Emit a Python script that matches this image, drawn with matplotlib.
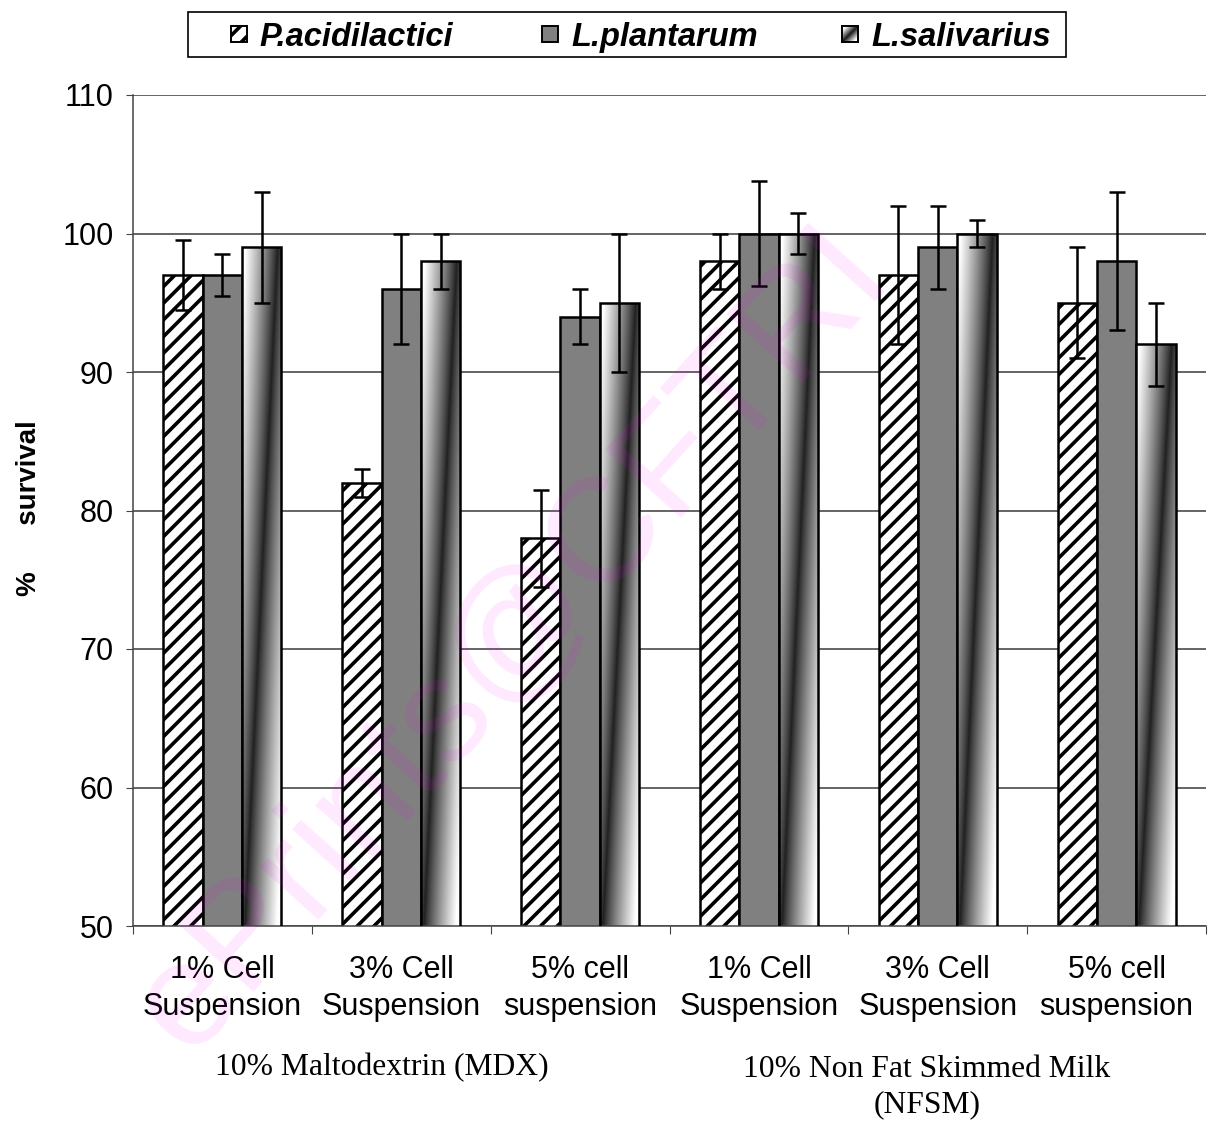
import numpy as np
import matplotlib.pyplot as plt
from matplotlib.patches import Rectangle

plt.rcParams["font.family"] = ["Liberation Sans", "DejaVu Sans"]
plt.rcParams["hatch.linewidth"] = 2.6

categories = ["1% Cell\nSuspension", "3% Cell\nSuspension", "5% cell\nsuspension",
              "1% Cell\nSuspension", "3% Cell\nSuspension", "5% cell\nsuspension"]
groups = ["10% Maltodextrin (MDX)", "10% Non Fat Skimmed Milk\n(NFSM)"]
strains = ["P.acidilactici", "L.plantarum", "L.salivarius"]

p_acid = [97, 82, 78, 98, 97, 95]
p_acid_err = [2.5, 1, 3.5, 2, 5, 4]
l_plant = [97, 96, 94, 100, 99, 98]
l_plant_err = [1.5, 4, 2, 3.8, 3, 5]
l_saliv = [99, 98, 95, 100, 100, 92]
l_saliv_err = [4, 2, 5, 1.5, 1, 3]

W, H = 1217, 1123
fig = plt.figure(figsize=(W / 100, H / 100), dpi=100)
ax = fig.add_axes([133 / W, 1 - 926 / H, (1206 - 133) / W, (926 - 95) / H])

ymin, ymax = 50, 110
x = np.arange(len(categories)) + 0.5
w = 0.22
edge = dict(edgecolor="black", linewidth=1.8)


def shade(nx=60, ny=200):
    # dark streak running from lower left to upper right, lighter away from it
    u = np.linspace(0, 1, nx)[None, :]
    v = np.linspace(0, 1, ny)[:, None]
    d = np.abs(u - (0.07 + 0.83 * v))
    b = np.clip(0.12 + 1.05 * d ** 0.85, 0, 1)
    return np.dstack([b, b, b])


ax.bar(x - w, p_acid, w, color="white", hatch="//", zorder=2, **edge)
ax.bar(x, l_plant, w, color="#808080", zorder=2, **edge)
sal = ax.bar(x + w, l_saliv, w, color="none", zorder=3, **edge)
for rect, val in zip(sal, l_saliv):
    x0 = rect.get_x()
    im = ax.imshow(shade(), extent=[x0, x0 + w, ymin, val], origin="lower",
                   aspect="auto", interpolation="bilinear", zorder=2)
    im.set_clip_path(rect)

eb = dict(fmt="none", ecolor="black", elinewidth=1.8, capsize=5.8,
          capthick=1.8, zorder=4)
ax.errorbar(x - w, p_acid, yerr=p_acid_err, **eb)
ax.errorbar(x, l_plant, yerr=l_plant_err, **eb)
ax.errorbar(x + w, l_saliv, yerr=l_saliv_err, **eb)

ax.set_xlim(0, len(categories))
ax.set_ylim(ymin, ymax)
ax.set_yticks(np.arange(ymin, ymax + 1, 10))
ax.yaxis.grid(True, color="#3a3a3a", linewidth=1.1)
ax.set_axisbelow(True)
for s in ["top", "right"]:
    ax.spines[s].set_visible(False)
for s in ["left", "bottom"]:
    ax.spines[s].set_color("#444444")
    ax.spines[s].set_linewidth(1.1)

ax.set_xticks(np.arange(len(categories) + 1))
ax.set_xticklabels([])
ax.set_xticks(x, categories, minor=True)
ax.tick_params(axis="x", which="major", length=6, color="#444444", direction="out")
ax.tick_params(axis="x", which="minor", length=0, pad=21, labelsize=22)
ax.tick_params(axis="y", length=5, color="#444444", labelsize=22, pad=9)
for t in ax.get_xticklabels(minor=True):
    t.set_linespacing(1.3)

ax.set_ylabel("%      survival", fontsize=20, fontweight="bold")
ax.yaxis.set_label_coords(-0.085, 0.503)

serif = ["Liberation Serif", "DejaVu Serif"]
fig.text(382 / W, 1 - 1068 / H, groups[0], ha="center", va="center",
         fontsize=22.8, family=serif)
fig.text(927 / W, 1 - 1087 / H, groups[1], ha="center", va="center",
         fontsize=22.8, family=serif, linespacing=1.3)

# legend drawn by hand across the top
fig.patches.append(Rectangle((188 / W, 1 - 57 / H), 878 / W, 45 / H,
                             transform=fig.transFigure, fill=False,
                             edgecolor="black", linewidth=1.2))
sq = 16
key_x = [231, 542, 842]
text_x = [259, 571, 871]
key_y = 34
fig.patches.append(Rectangle((key_x[0] / W, 1 - (key_y + sq / 2) / H), sq / W, sq / H,
                             transform=fig.transFigure, facecolor="white",
                             edgecolor="black", hatch="//", linewidth=1.4))
fig.patches.append(Rectangle((key_x[1] / W, 1 - (key_y + sq / 2) / H), sq / W, sq / H,
                             transform=fig.transFigure, facecolor="#808080",
                             edgecolor="black", linewidth=1.4))
kax = fig.add_axes([key_x[2] / W, 1 - (key_y + sq / 2) / H, sq / W, sq / H])
u = np.linspace(0, 1, 20)[None, :]
v = np.linspace(0, 1, 20)[:, None]
kb = np.clip(0.1 + 1.2 * np.abs(u - v), 0, 1)
kax.imshow(np.dstack([kb, kb, kb]), origin="lower", extent=[0, 1, 0, 1], aspect="auto")
kax.set_xticks([])
kax.set_yticks([])
for s in kax.spines.values():
    s.set_linewidth(1.4)
for tx, name in zip(text_x, strains):
    fig.text(tx / W, 1 - key_y / H, name, ha="left", va="center_baseline",
             fontsize=23.5, fontweight="bold", fontstyle="italic")

fig.text(512 / W, 1 - 640 / H, "ePrints@CFTRI", rotation=48, rotation_mode="anchor",
         ha="center", va="center", fontsize=107, color=(1, 0, 1), alpha=0.09,
         zorder=10)

fig.savefig("out.png", dpi=100)
